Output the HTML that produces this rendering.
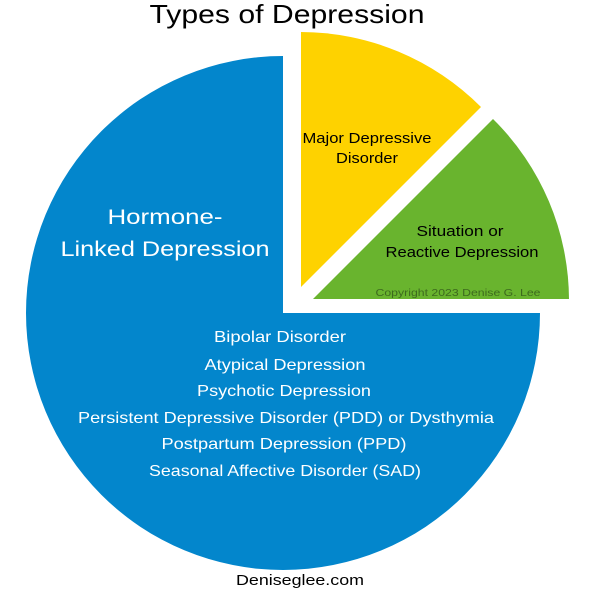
<!DOCTYPE html>
<html><head><meta charset="utf-8"><style>
html,body{margin:0;padding:0;background:#fff;}
svg{display:block;}
text{font-family:"Liberation Sans",sans-serif;}
</style></head><body>
<svg width="600" height="600" viewBox="0 0 600 600" xmlns="http://www.w3.org/2000/svg">
<rect width="600" height="600" fill="#fff"/>
<path d="M283,313 L540,313 A257,257 0 1 1 283,56 Z" fill="#0386cc"/>
<path d="M301,287 L301,32 A255,255 0 0 1 481,107 Z" fill="#fed200"/>
<path d="M313,299 L493,119 A255,255 0 0 1 569,299 Z" fill="#69b42e"/>
<text x="287" y="23" font-size="26" text-anchor="middle" fill="#000" textLength="275" lengthAdjust="spacingAndGlyphs">Types of Depression</text>
<g fill="#000" font-size="14.5" text-anchor="middle">
<text x="367" y="143" textLength="129" lengthAdjust="spacingAndGlyphs">Major Depressive</text>
<text x="367" y="163" textLength="62" lengthAdjust="spacingAndGlyphs">Disorder</text>
<text x="460" y="236" textLength="87" lengthAdjust="spacingAndGlyphs">Situation or</text>
<text x="462" y="257" textLength="153" lengthAdjust="spacingAndGlyphs">Reactive Depression</text>
</g>
<text x="458" y="296" font-size="10.5" text-anchor="middle" fill="#3d6a1e" textLength="165" lengthAdjust="spacingAndGlyphs">Copyright 2023 Denise G. Lee</text>
<g fill="#fff" text-anchor="middle">
<text x="165" y="224" font-size="21" textLength="115" lengthAdjust="spacingAndGlyphs">Hormone-</text>
<text x="165" y="256" font-size="21" textLength="209" lengthAdjust="spacingAndGlyphs">Linked Depression</text>
<g font-size="16">
<text x="280" y="342" textLength="132" lengthAdjust="spacingAndGlyphs">Bipolar Disorder</text>
<text x="285" y="370" textLength="161" lengthAdjust="spacingAndGlyphs">Atypical Depression</text>
<text x="284" y="396" textLength="174" lengthAdjust="spacingAndGlyphs">Psychotic Depression</text>
<text x="286" y="423" textLength="416" lengthAdjust="spacingAndGlyphs">Persistent Depressive Disorder (PDD) or Dysthymia</text>
<text x="284" y="449" textLength="245" lengthAdjust="spacingAndGlyphs">Postpartum Depression (PPD)</text>
<text x="285" y="476" textLength="272" lengthAdjust="spacingAndGlyphs">Seasonal Affective Disorder (SAD)</text>
</g></g>
<text x="300" y="585" font-size="15" text-anchor="middle" fill="#000" textLength="128" lengthAdjust="spacingAndGlyphs">Deniseglee.com</text>
</svg>
</body></html>
